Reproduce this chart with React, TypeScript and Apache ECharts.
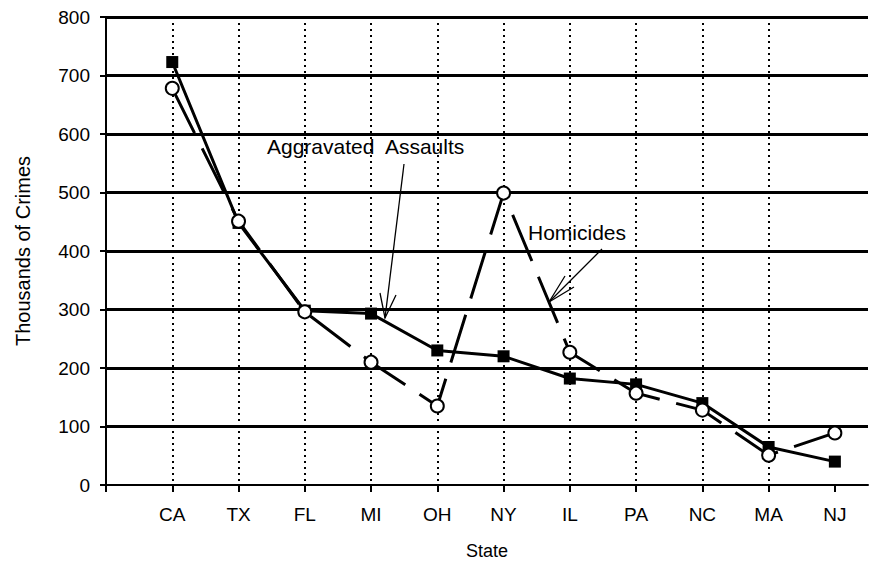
import React, { useEffect, useRef } from "react";
import * as echarts from "echarts";

const states = ["CA", "TX", "FL", "MI", "OH", "NY", "IL", "PA", "NC", "MA", "NJ"];
const assaults = [723, 448, 298, 293, 230, 220, 182, 172, 140, 65, 40];
const homicides = [678, 451, 296, 210, 135, 499, 227, 157, 128, 51, 89];
const yTicks = [0, 100, 200, 300, 400, 500, 600, 700, 800];

const FONT = "'Liberation Sans', Arial, sans-serif";

export default function App() {
  const ref = useRef<HTMLDivElement>(null);
  useEffect(() => {
    document.body.style.margin = "0";
    const chart = echarts.init(ref.current!, undefined, { renderer: "svg" });
    const xPositions = states.map((_, i) => i + 1);
    chart.setOption({
      animation: false,
      backgroundColor: "#fff",
      grid: { left: 106, right: 20, top: 17, bottom: 85, containLabel: false },
      xAxis: {
        type: "value",
        min: 0,
        max: 11.5,
        interval: 1,
        name: "State",
        nameLocation: "middle",
        nameGap: 57,
        nameTextStyle: { fontSize: 18, fontFamily: FONT, color: "#000" },
        axisLine: { show: true, lineStyle: { color: "#000", width: 2 } },
        axisTick: {
          show: true,
          length: 7,
          lineStyle: { color: "#000", width: 2 },
          customValues: [0, ...xPositions],
        },
        axisLabel: {
          fontSize: 19,
          fontFamily: FONT,
          color: "#000",
          margin: 20,
          customValues: xPositions,
          formatter: (v: number) => states[Math.round(v) - 1] ?? "",
        },
        splitLine: {
          show: true,
          showMinLine: false,
          showMaxLine: false,
          lineStyle: { color: "#000", width: 2, type: [2, 4] },
        },
      },
      yAxis: {
        type: "value",
        min: yTicks[0],
        max: yTicks[yTicks.length - 1],
        interval: 100,
        name: "Thousands of Crimes",
        nameLocation: "middle",
        nameGap: 73,
        nameTextStyle: { fontSize: 20, fontFamily: FONT, color: "#000" },
        axisLine: { show: true, lineStyle: { color: "#000", width: 2 } },
        axisTick: { show: true, length: 6, lineStyle: { color: "#000", width: 2 } },
        axisLabel: { fontSize: 19, fontFamily: FONT, color: "#000", margin: 16 },
        splitLine: {
          show: true,
          showMinLine: false,
          lineStyle: { color: "#000", width: 3 },
        },
      },
      series: [
        {
          name: "Aggravated Assaults",
          type: "line",
          data: assaults.map((v, i) => [xPositions[i], v]),
          symbol: "rect",
          symbolSize: 12,
          itemStyle: { color: "#000" },
          lineStyle: { color: "#000", width: 3 },
          z: 3,
        },
        {
          name: "Homicides",
          type: "line",
          data: homicides.map((v, i) => [xPositions[i], v]),
          symbol: "circle",
          symbolSize: 13,
          showAllSymbol: true,
          itemStyle: { color: "#fff", borderColor: "#000", borderWidth: 2 },
          lineStyle: { color: "#000", width: 3, type: [50, 17] },
          z: 4,
        },
      ],
      graphic: [
        {
          type: "text",
          x: 267,
          y: 146,
          style: {
            text: "Aggravated  Assaults",
            fontSize: 21,
            fontFamily: FONT,
            fill: "#000",
            verticalAlign: "middle",
          },
          z: 10,
        },
        {
          type: "line",
          shape: { x1: 404, y1: 164, x2: 385, y2: 318 },
          style: { stroke: "#000", lineWidth: 1.3 },
          z: 10,
        },
        {
          type: "polyline",
          shape: { points: [[380, 293], [385, 318], [396, 295]] },
          style: { stroke: "#000", lineWidth: 1.3, fill: "none" },
          z: 10,
        },
        {
          type: "text",
          x: 528,
          y: 232,
          style: {
            text: "Homicides",
            fontSize: 21,
            fontFamily: FONT,
            fill: "#000",
            verticalAlign: "middle",
          },
          z: 10,
        },
        {
          type: "line",
          shape: { x1: 602, y1: 249, x2: 549, y2: 302 },
          style: { stroke: "#000", lineWidth: 1.3 },
          z: 10,
        },
        {
          type: "polyline",
          shape: { points: [[565, 276], [549, 302], [574, 287]] },
          style: { stroke: "#000", lineWidth: 1.3, fill: "none" },
          z: 10,
        },
      ],
    });
    return () => chart.dispose();
  }, []);
  return <div ref={ref} style={{ width: 888, height: 570 }} />;
}
